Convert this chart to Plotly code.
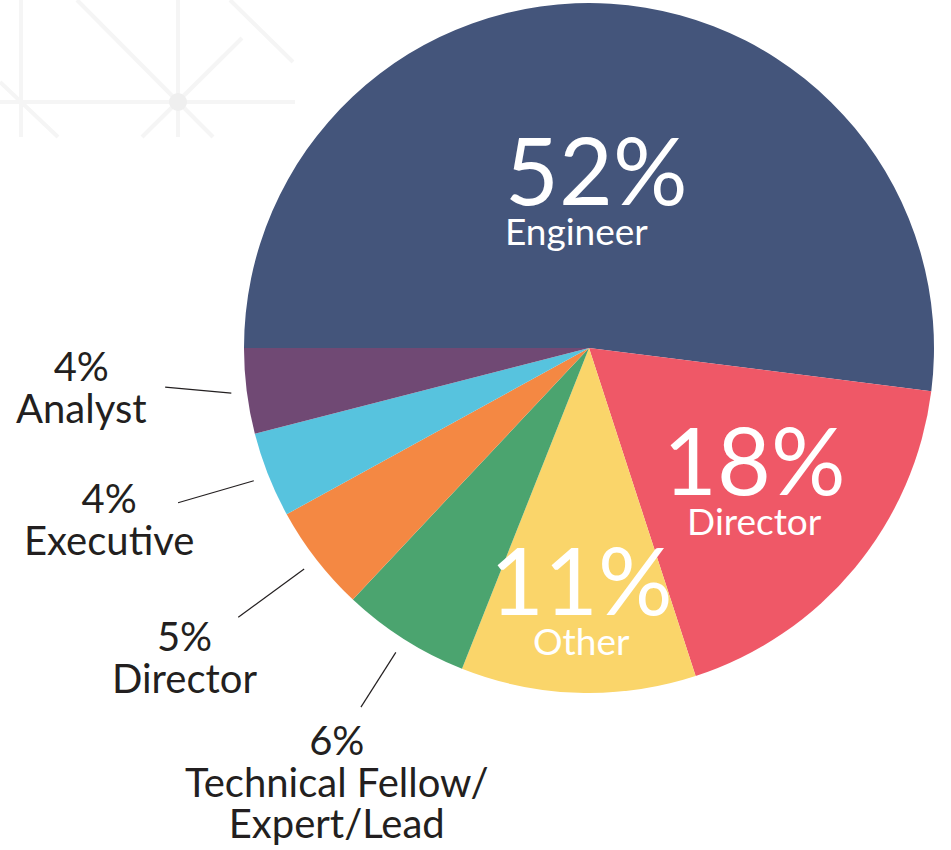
import math
import plotly.graph_objects as go

W, H = 951, 850

# datos
roles = ["Engineer", "Director", "Other", "Technical Fellow/<br>Expert/Lead", "Director", "Executive", "Analyst"]
pcts = [52, 18, 11, 6, 5, 4, 4]
colores = ["#44557b", "#ef5867", "#fad56a", "#4ba46f", "#f48843", "#57c3de", "#704974"]
dentro = [True, True, True, False, False, False, False]

# geometria del pastel (pixeles)
cx, cy, R = 589, 348, 345
inner_f = {0: 0.452, 1: 0.62, 2: 0.74}
inner_dy = {0: -9, 1: -11, 2: -10}
# ajustes finos de las etiquetas exteriores (dx, dy) y del extremo de la guia
label_nudge = {3: (20, 5), 4: (-3, -2), 5: (-8, -16), 6: (-4, -25)}
end_nudge = {3: (3, -5), 4: (-10, 5), 5: (-10, -4), 6: (4, -15)}


def px(x):
    return x / W


def py(y):
    return 1 - y / H


fig = go.Figure()

# patron decorativo del fondo
deco = [((21, 0), (21, 137)), ((178, 0), (178, 137)), ((0, 102), (295, 102)),
        ((77, 0), (213, 137)), ((242, 38), (142, 137)), ((230, 0), (293, 62)),
        ((0, 82), (58, 137))]
for (x0, y0), (x1, y1) in deco:
    fig.add_shape(type="line", xref="paper", yref="paper", x0=px(x0), y0=py(y0), x1=px(x1), y1=py(y1),
                  line=dict(color="#f5f5f5", width=4), layer="below")
fig.add_shape(type="circle", xref="paper", yref="paper", x0=px(169), y0=py(93), x1=px(187), y1=py(111),
              fillcolor="#efefef", line=dict(width=0), layer="below")

fig.add_trace(go.Pie(
    values=pcts, labels=[f"{r} {i}" for i, r in enumerate(roles)], sort=False,
    direction="clockwise", rotation=-90,
    marker=dict(colors=colores, line=dict(width=0)),
    textinfo="none", hoverinfo="skip", showlegend=False,
    domain=dict(x=[px(cx - R), px(cx + R)], y=[py(cy + R), py(cy - R)]),
))

# etiquetas
start = 180.0
for i, (rol, p) in enumerate(zip(roles, pcts)):
    span = p / 100 * 360
    mid = math.radians(start - span / 2)
    start -= span
    if dentro[i]:
        f = inner_f[i]
        x = cx + f * R * math.cos(mid)
        y = cy - f * R * math.sin(mid) + inner_dy[i]
        txt = (f"<span style='font-size:93px'>{p}%</span><br>"
               f"<span style='font-size:37px'>{rol}</span>")
        if i == 0:
            fig.add_annotation(x=px(503), y=py(y), xref="paper", yref="paper", text=txt,
                               showarrow=False, font=dict(family="Lato", size=31, color="white"),
                               xanchor="left", yanchor="middle", align="left")
        else:
            fig.add_annotation(x=px(x), y=py(y), xref="paper", yref="paper", text=txt,
                               showarrow=False, font=dict(family="Lato", size=31, color="white"),
                               xanchor="center", yanchor="middle", align="center")
    else:
        ex, ey = end_nudge[i]
        x0 = cx + 1.045 * R * math.cos(mid)
        y0 = cy - 1.045 * R * math.sin(mid)
        x1 = cx + 1.25 * R * math.cos(mid) + ex
        y1 = cy - 1.25 * R * math.sin(mid) + ey
        fig.add_shape(type="line", xref="paper", yref="paper", x0=px(x0), y0=py(y0), x1=px(x1), y1=py(y1),
                      line=dict(color="#231f20", width=1.2))
        lx, ly = label_nudge[i]
        xl = cx + 1.47 * R * math.cos(mid) + lx
        yl = cy - 1.47 * R * math.sin(mid) + ly
        lineas = [f"{p}%"] + rol.split("<br>")
        txt = "<br>".join(f"<span style='font-size:40px'>{t}</span>" for t in lineas)
        fig.add_annotation(x=px(xl), y=py(yl), xref="paper", yref="paper", text=txt,
                           showarrow=False, font=dict(family="Lato", size=32, color="#231f20"),
                           xanchor="center", yanchor="middle", align="center")

fig.update_layout(width=W, height=H, margin=dict(l=0, r=0, t=0, b=0),
                  paper_bgcolor="white", plot_bgcolor="white")

# sin margen del body para que el grafico ocupe toda la ventana
fig.write_html("out.html", config={"displayModeBar": False},
               post_script="document.body.style.margin='0';")
